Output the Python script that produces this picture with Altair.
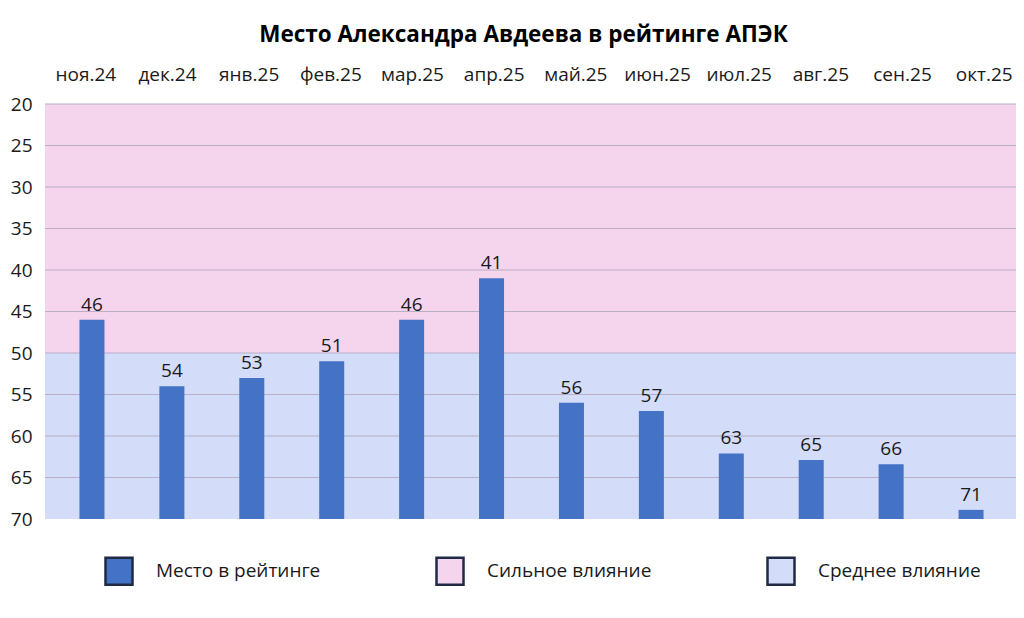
import altair as alt
import pandas as pd

# ---- data ----
months = ["ноя.24", "дек.24", "янв.25", "фев.25", "мар.25", "апр.25",
          "май.25", "июн.25", "июл.25", "авг.25", "сен.25", "окт.25"]
# bar tops as drawn in the picture
bar_tops = [46, 54, 53, 51, 46, 41, 56, 57, 62.1, 62.9, 63.4, 68.9]
# values printed above the bars
rank_labels = [46, 54, 53, 51, 46, 41, 56, 57, 63, 65, 66, 71]
series_name = "Место в рейтинге"
zone_names = ["Сильное влияние", "Среднее влияние"]
zone_from = [20, 50]
zone_to = [50, 70]
grid_values = [20, 25, 30, 35, 40, 45, 50, 55, 60, 65]
axis_values = [20, 25, 30, 35, 40, 45, 50, 55, 60, 65, 70]
y_min, y_max = 20, 70

FONT = "Open Sans"
W, H = 971, 415

bars_df = pd.DataFrame({
    "month": months,
    "top": bar_tops,
    "label": rank_labels,
    "base": [y_max] * len(months),
    "series": [series_name] * len(months),
})
zones_df = pd.DataFrame({"name": zone_names, "lo": zone_from, "hi": zone_to})
grid_df = pd.DataFrame({"v": grid_values})

cscale = alt.Scale(domain=[series_name] + zone_names,
                   range=["#4472c4", "#f5d5ee", "#d3dcf9"])
yscale = alt.Scale(domain=[y_min, y_max], reverse=True, nice=False, zero=False)

legend = alt.Legend(
    title=None, orient="none", legendX=59, legendY=452, direction="horizontal",
    symbolType="square", symbolSize=729, symbolStrokeColor="#1f2a44",
    symbolStrokeWidth=2.5, symbolOpacity=1, labelFont=FONT, labelFontSize=19,
    labelColor="#1a1a1a", labelOffset=22, columnPadding=110, labelLimit=400,
)

bg = alt.Chart(zones_df).mark_rect().encode(
    x=alt.value(0), x2=alt.value(W),
    y=alt.Y("lo:Q", scale=yscale, title=None,
            axis=alt.Axis(values=axis_values, ticks=False, domain=False, grid=False,
                          labelFont=FONT, labelFontSize=19, labelColor="#1a1a1a",
                          labelPadding=13)),
    y2="hi:Q",
    color=alt.Color("name:N", scale=cscale, legend=legend),
)

grid = alt.Chart(grid_df).mark_rule(color="#b6afc6", strokeWidth=1).encode(
    y=alt.Y("v:Q", scale=yscale), x=alt.value(0), x2=alt.value(W),
)

label_axis = alt.Chart(bars_df).mark_point(opacity=0).encode(
    x=alt.X("month:N", sort=months, title=None,
            scale=alt.Scale(type="band", range=[0, 980], paddingInner=0, paddingOuter=0),
            axis=alt.Axis(orient="top", ticks=False, tickSize=0, domain=False, grid=False,
                          labelAngle=0, labelFont=FONT, labelFontSize=19,
                          labelColor="#1a1a1a", labelPadding=20)),
    y=alt.Y("top:Q", scale=yscale),
)

bar_x = alt.X("month:N", sort=months, axis=None,
              scale=alt.Scale(type="band", range=[7, 966], paddingInner=0, paddingOuter=0))

bars = alt.Chart(bars_df).mark_bar(size=25).encode(
    x=bar_x,
    y=alt.Y("top:Q", scale=yscale),
    y2="base:Q",
    color=alt.Color("series:N", scale=cscale, legend=legend),
)

text = alt.Chart(bars_df).mark_text(baseline="bottom", dy=-5, fontSize=19, font=FONT,
                                    color="#1a1a1a").encode(
    x=bar_x,
    y=alt.Y("top:Q", scale=yscale),
    text="label:Q",
)

chart = alt.layer(bg, grid, label_axis, bars, text).resolve_scale(
    x="independent"
).properties(
    width=W, height=H,
    title=alt.Title("Место Александра Авдеева в рейтинге АПЭК", font=FONT, fontSize=22.5,
                    fontWeight="bold", color="#000000", anchor="middle", offset=19, dx=-7),
    autosize=alt.AutoSizeParams(type="none"),
    padding={"left": 37, "top": 96, "right": 0, "bottom": 95},
).configure_view(stroke=None)

chart.save("out.html", embed_options={"renderer": "svg", "actions": False})
